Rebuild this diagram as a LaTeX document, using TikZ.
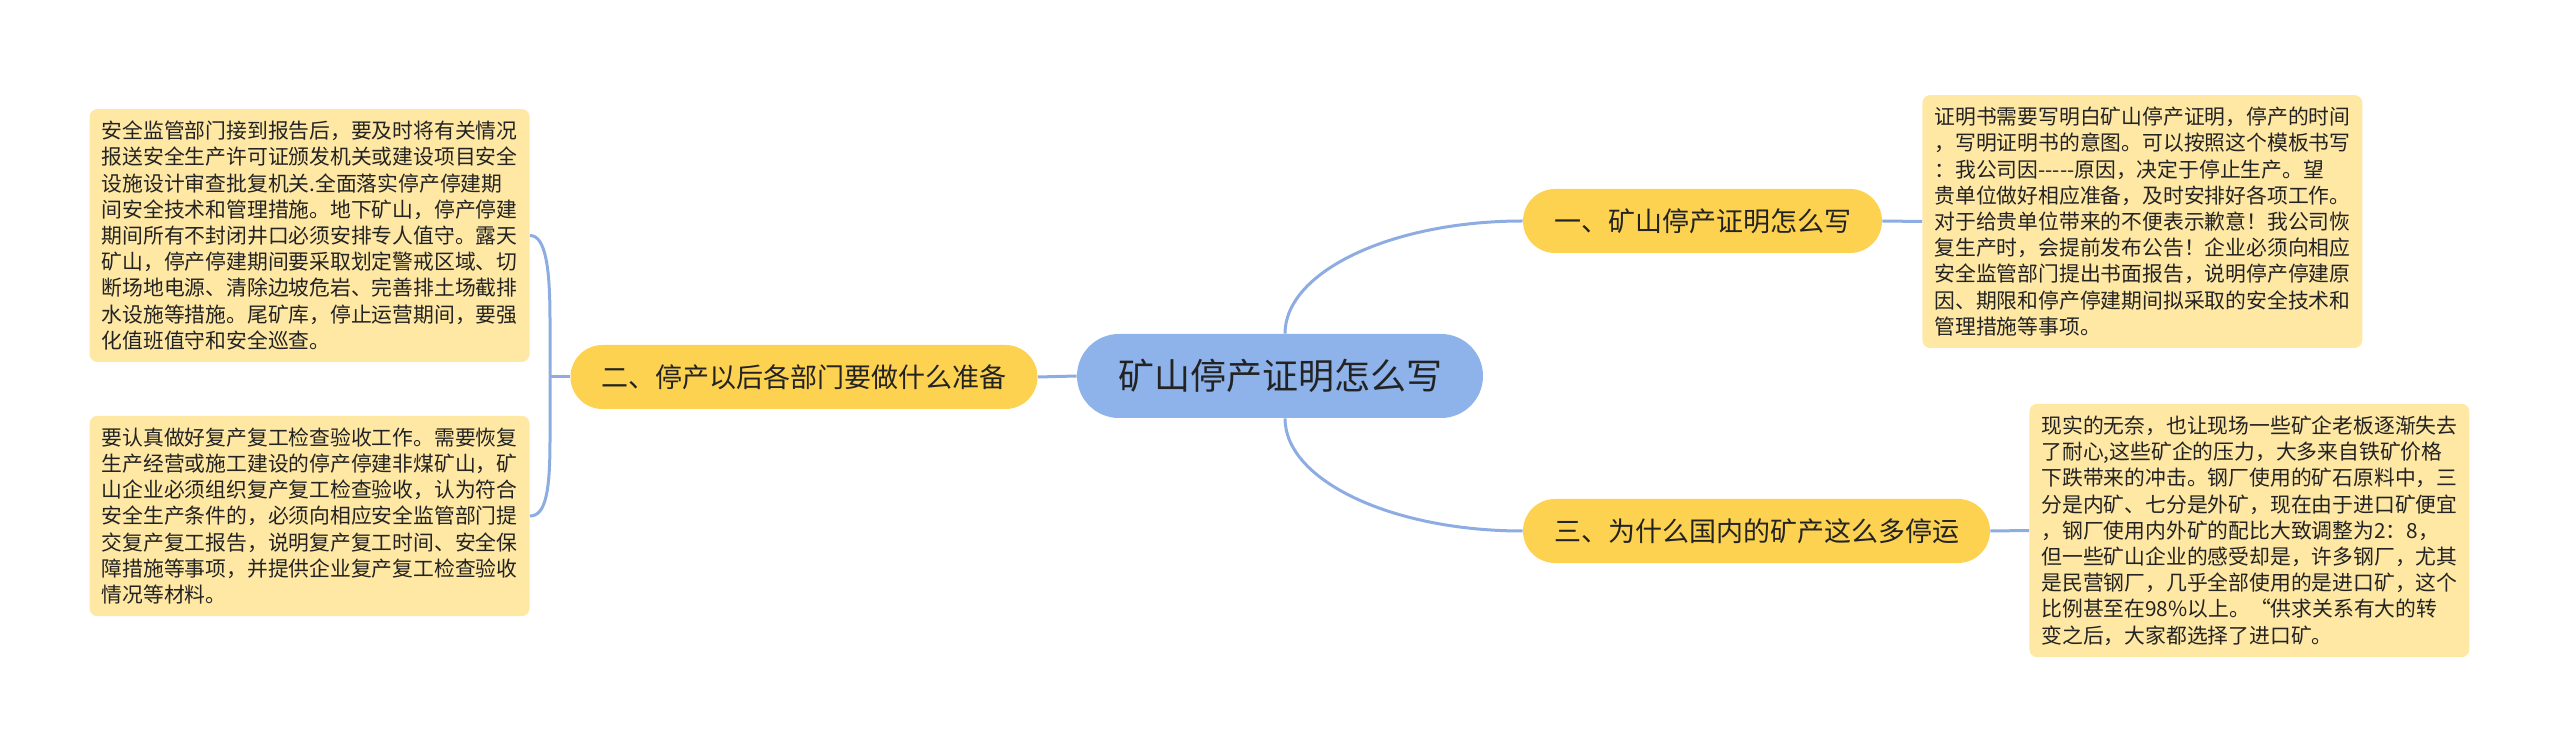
\documentclass[tikz,border=0pt]{standalone}
\usepackage{fontspec}
\newfontfamily\cjk{Noto Sans CJK SC}
\definecolor{cblue}{RGB}{142,178,234}
\definecolor{cyellow}{RGB}{252,210,80}
\definecolor{cnote}{RGB}{254,232,164}
\definecolor{cline}{RGB}{140,172,226}
\definecolor{ctext}{RGB}{35,35,35}
\tikzset{mapsec/.style={x=0.5pt,y=-0.5pt,font=\cjk,text=ctext},
  rootbox/.style={fill=cblue,rounded corners=21pt,minimum width=203pt,minimum height=42pt,
    font=\cjk\fontsize{18pt}{20pt}\selectfont},
  topicbox/.style={fill=cyellow,rounded corners=16pt,minimum height=32pt,inner xsep=15.5pt,
    font=\cjk\fontsize{13.5pt}{15pt}\selectfont},
  notebox/.style={fill=cnote,rounded corners=4pt,text width=208pt,align=left,
    inner xsep=6pt,inner ysep=6pt,font=\cjk\fontsize{10.4pt}{13.1pt}\selectfont},
  link/.style={draw=cline,line width=1.5pt}}

\begin{document}
\begin{tikzpicture}[mapsec]
    \useasboundingbox (0,0) rectangle (2560,753);
    \node[rootbox]  (root) at (1280,376) {矿山停产证明怎么写};
    \node[topicbox] (t1) at (1702.5,221) {一、矿山停产证明怎么写};
    \node[topicbox] (t2) at (804,377) {二、停产以后各部门要做什么准备};
    \node[topicbox] (t3) at (1756.5,531) {三、为什么国内的矿产这么多停运};
    \node[notebox,anchor=west] (n1) at (1922,221.5) {证明书需要写明白矿山停产证明，停产的时间\\，写明证明书的意图。可以按照这个模板书写\\：我公司因-----原因，决定于停止生产。望\\贵单位做好相应准备，及时安排好各项工作。\\对于给贵单位带来的不便表示歉意！我公司恢\\复生产时，会提前发布公告！企业必须向相应\\安全监管部门提出书面报告，说明停产停建原\\因、期限和停产停建期间拟采取的安全技术和\\管理措施等事项。};
    \node[notebox,anchor=east] (n2a) at (530,235.5) {安全监管部门接到报告后，要及时将有关情况\\报送安全生产许可证颁发机关或建设项目安全\\设施设计审查批复机关.全面落实停产停建期\\间安全技术和管理措施。地下矿山，停产停建\\期间所有不封闭井口必须安排专人值守。露天\\矿山，停产停建期间要采取划定警戒区域、切\\断场地电源、清除边坡危岩、完善排土场截排\\水设施等措施。尾矿库，停止运营期间，要强\\化值班值守和安全巡查。};
    \node[notebox,anchor=east] (n2b) at (530,516) {要认真做好复产复工检查验收工作。需要恢复\\生产经营或施工建设的停产停建非煤矿山，矿\\山企业必须组织复产复工检查验收，认为符合\\安全生产条件的，必须向相应安全监管部门提\\交复产复工报告，说明复产复工时间、安全保\\障措施等事项，并提供企业复产复工检查验收\\情况等材料。};
    \node[notebox,anchor=west] (n3) at (2029,530.5) {现实的无奈，也让现场一些矿企老板逐渐失去\\了耐心,这些矿企的压力，大多来自铁矿价格\\下跌带来的冲击。钢厂使用的矿石原料中，三\\分是内矿、七分是外矿，现在由于进口矿便宜\\，钢厂使用内外矿的配比大致调整为2：8，\\但一些矿山企业的感受却是，许多钢厂，尤其\\是民营钢厂，几乎全部使用的是进口矿，这个\\比例甚至在98\%以上。“供求关系有大的转\\变之后，大家都选择了进口矿。};
    % branches
    \draw[link] ([xshift=2.5pt]root.north) .. controls +(0,-62) and +(-131,0) .. (t1.west);
    \draw[link] ([xshift=2.5pt]root.south) .. controls +(0,62) and +(-131,0) .. (t3.west);
    \draw[link] (root.west) -- (t2.east);
    \draw[link] (t1.east) -- (n1.west);
    \draw[link] (t3.east) -- (n3.west);
    \coordinate (fork) at (550,377);
    \draw[link] (t2.west) -- (fork);
    \draw[link] (n2a.east) .. controls +(16,0) and (550,270) .. (550,320) -- (550,440)
        .. controls (550,490) and +(16,0) .. (n2b.east);
\end{tikzpicture}
\end{document}
